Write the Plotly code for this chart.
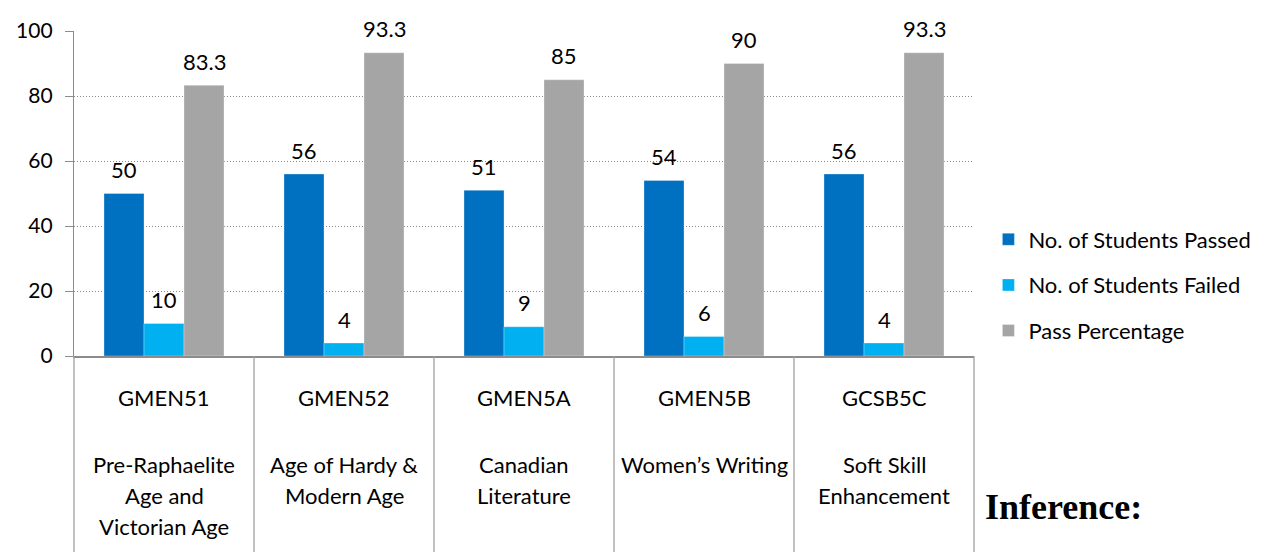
import plotly.graph_objects as go

codes = ["GMEN51", "GMEN52", "GMEN5A", "GMEN5B", "GCSB5C"]
titles = [
    ["Pre-Raphaelite", "Age and", "Victorian Age"],
    ["Age of Hardy &", "Modern Age"],
    ["Canadian", "Literature"],
    ["Women\u2019s Writing"],
    ["Soft Skill", "Enhancement"],
]
passed = [50, 56, 51, 54, 56]
failed = [10, 4, 9, 6, 4]
pass_pct = [83.3, 93.3, 85, 90, 93.3]
series_names = ["No. of Students Passed", "No. of Students Failed", "Pass Percentage"]
series_values = [passed, failed, pass_pct]
colors = ["#0070C0", "#00B0F0", "#A5A5A5"]
y_ticks = [0, 20, 40, 60, 80, 100]

FONT = "Lato"
FS = 22
W, H = 1269, 552
L, R, T, B = 74, 295, 31, 196
plot_h = H - T - B

fig = go.Figure()
for i, (name, vals, col) in enumerate(zip(series_names, series_values, colors)):
    fig.add_trace(go.Bar(
        x=codes, y=vals, name=name,
        marker=dict(color=col, line=dict(color="rgba(255,255,255,0.6)", width=0.5)),
        legendgroup=f"g{i}",
    ))

annotations = []
# data labels
offsets = [-40, 0, 40]
for vals, off in zip(series_values, offsets):
    for c, v in zip(codes, vals):
        annotations.append(dict(
            x=c, y=v, xref="x", yref="y", text=f"{v:g}", showarrow=False,
            xshift=off, yshift=24, yanchor="middle",
            font=dict(family=FONT, size=FS, color="#000000"),
        ))

# category code labels and titles (table-like)
for c, lines in zip(codes, titles):
    annotations.append(dict(
        x=c, y=0, xref="x", yref="paper", text=c, showarrow=False,
        yshift=-(397 - 356), yanchor="middle",
        font=dict(family=FONT, size=FS, color="#000000"),
    ))
    for k, line in enumerate(lines):
        annotations.append(dict(
            x=c, y=0, xref="x", yref="paper", text=line, showarrow=False,
            yshift=-(464 - 356 + 31 * k), yanchor="middle",
            font=dict(family=FONT, size=FS, color="#000000"),
        ))

annotations.append(dict(
    x=1, y=0, xref="paper", yref="paper", text="<b>Inference:</b>", showarrow=False,
    xanchor="left", xshift=9, yshift=-(507 - 356), yanchor="middle",
    font=dict(family="Liberation Serif", size=36, color="#000000"),
))

shapes = []
bottom = -B / plot_h
n = len(codes)
for k in range(n + 1):
    shapes.append(dict(
        type="line", xref="paper", yref="paper",
        x0=k / n, x1=k / n, y0=0, y1=bottom - 0.05,
        line=dict(color="#A0A0A0", width=1.3),
    ))

fig.update_layout(
    width=W, height=H,
    margin=dict(l=L, r=R, t=T, b=B, pad=0),
    paper_bgcolor="white", plot_bgcolor="white",
    barmode="group", bargap=1/3, bargroupgap=0,
    font=dict(family=FONT, size=FS, color="#000000"),
    showlegend=True,
    legend=dict(
        x=1.016, xanchor="left", xref="paper",
        y=(356 - 285) / plot_h, yanchor="middle",
        font=dict(family=FONT, size=FS, color="#000000"),
        tracegroupgap=14, itemwidth=30,
        bgcolor="rgba(0,0,0,0)", traceorder="grouped",
    ),
    xaxis=dict(
        showticklabels=False, showgrid=False, showline=True,
        linecolor="#8C8C8C", linewidth=1.5, ticks="", zeroline=False,
        range=[-0.5, n - 0.5],
    ),
    yaxis=dict(
        range=[0, 100], tickvals=y_ticks, showgrid=True,
        gridcolor="#8A8A8A", griddash="1px,2px", gridwidth=1,
        showline=True, linecolor="#8C8C8C", linewidth=1.3,
        ticks="outside", ticklen=8, tickcolor="#8C8C8C",
        tickfont=dict(family=FONT, size=21, color="#000000"),
        zeroline=False, ticklabelstandoff=8,
    ),
    annotations=annotations,
    shapes=shapes,
)

fig.write_html(
    "out.html",
    config={"displayModeBar": False},
    post_script="document.body.style.margin='0';document.body.style.overflow='hidden';",
)
